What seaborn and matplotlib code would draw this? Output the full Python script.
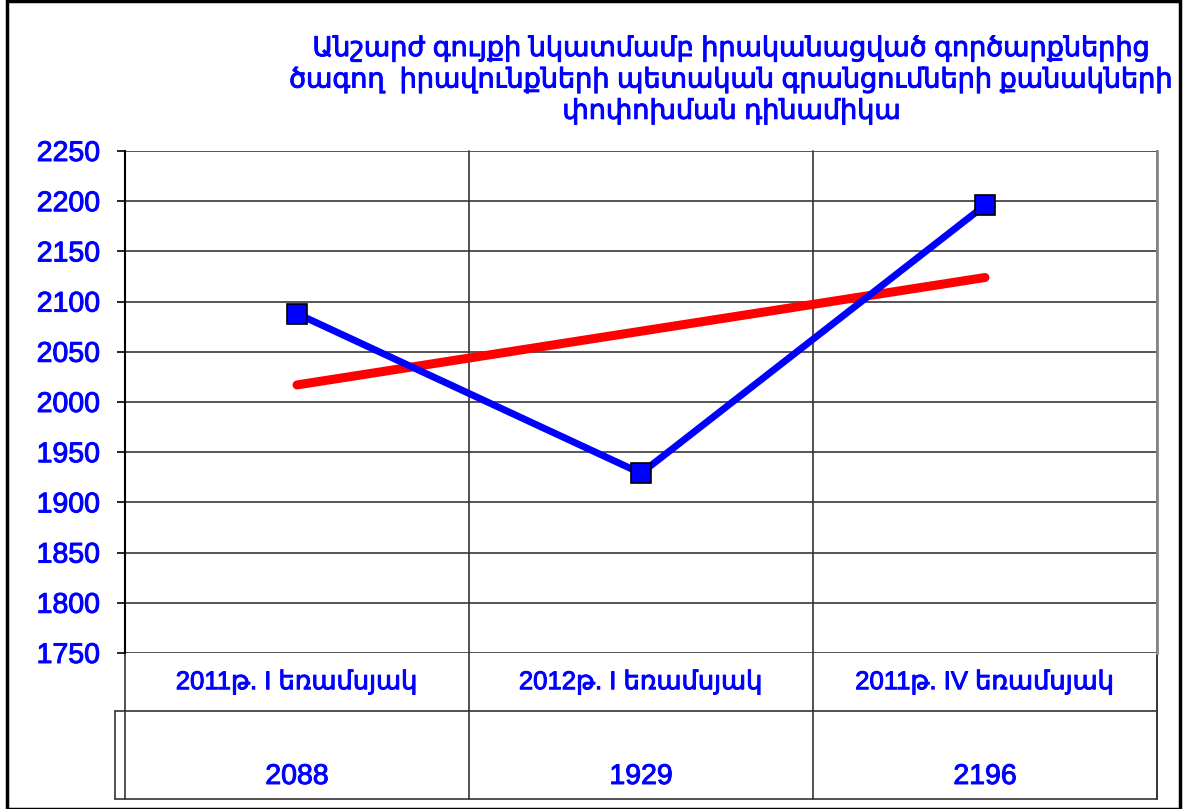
import matplotlib
matplotlib.use("Agg")
import matplotlib.pyplot as plt
import matplotlib.patheffects as pe
import seaborn as sns
import pandas as pd
from matplotlib.patches import Rectangle

# data
periods = ["2011թ. I եռամսյակ", "2012թ. I եռամսյակ", "2011թ. IV եռամսյակ"]
counts = [2088, 1929, 2196]
trend_values = [2017, 2124]  # linear trend at first and last period
y_ticks = list(range(1750, 2251, 50))

title = ("Անշարժ գույքի նկատմամբ իրականացված գործարքներից\n"
         "ծագող  իրավունքների պետական գրանցումների քանակների\n"
         "փոփոխման դինամիկա")

sns.set_style("white")
plt.rcParams["font.family"] = ["Liberation Sans", "DejaVu Sans"]

df = pd.DataFrame({"period": periods, "count": counts})

fig = plt.figure(figsize=(11.84, 8.09), dpi=100)
ax = fig.add_axes([125 / 1184, 1 - 653 / 809, 1032 / 1184, 502 / 809])

blue = "#0000ff"
grid_col = "#555555"
# slightly heavier text, like the original rendering
heavy = [pe.withStroke(linewidth=0.7, foreground=blue)]

# horizontal gridlines
for v in y_ticks:
    ax.axhline(v, color=grid_col, lw=1.4, zorder=1)

sns.lineplot(data=df, x="period", y="count", ax=ax, color=blue, lw=5,
             marker="s", markersize=14, markerfacecolor=blue,
             markeredgecolor="black", markeredgewidth=1.2, zorder=4)
ax.plot([periods[0], periods[-1]], trend_values, color="#ff0000", lw=6.5,
        solid_capstyle="round", zorder=3)

ax.set_xlim(-0.5, len(periods) - 0.5)
ax.set_ylim(y_ticks[0], y_ticks[-1])
ax.set_yticks(y_ticks)
ax.set_yticklabels([str(v) for v in y_ticks], color=blue, fontsize=20.5)
for lab in ax.get_yticklabels():
    lab.set_path_effects(heavy)
ax.tick_params(axis="y", left=True, direction="out", length=6, width=1.2,
               color="black", pad=12)
ax.set_xticks([])
ax.set_xlabel("")
ax.set_ylabel("")
for side in ["top", "bottom"]:
    ax.spines[side].set_visible(False)
ax.spines["left"].set_color("black")
ax.spines["left"].set_linewidth(1.5)
ax.spines["right"].set_color("#888888")
ax.spines["right"].set_linewidth(2)

# data table below the plot
row1 = -58 / 502
row2 = -146 / 502
tr = ax.transAxes
n = len(periods)
for i in range(n + 1):
    ax.plot([i / n, i / n], [1, row2], transform=tr, color="#333333", lw=1.2,
            clip_on=False, zorder=2)
ax.plot([0, 1], [row1, row1], transform=tr, color="#333333", lw=1.2, clip_on=False)
ax.plot([-10 / 1032, 1], [row2, row2], transform=tr, color="#333333", lw=1.2, clip_on=False)
ax.plot([-10 / 1032, 0], [row1, row1], transform=tr, color="#333333", lw=1.2, clip_on=False)
ax.plot([-10 / 1032, -10 / 1032], [row1, row2], transform=tr, color="#333333", lw=1.2,
        clip_on=False)
ax.plot([1, 1], [0, row2], transform=tr, color="#333333", lw=1.2, clip_on=False)

for i, (p, c) in enumerate(zip(periods, counts)):
    xc = (i + 0.5) / n
    ax.text(xc, row1 / 2, p, transform=tr, ha="center", va="center",
            color=blue, fontsize=18.5, path_effects=heavy)
    ax.text(xc, row2 + 22 / 502, str(c), transform=tr, ha="center", va="center",
            color=blue, fontsize=20.5, path_effects=heavy)

fig.text(732 / 1184, 1 - 80 / 809, title, ha="center", va="center",
         color=blue, fontsize=19.5, linespacing=1.22, path_effects=heavy)

# outer frame
fig.patches.append(Rectangle((7 / 1184, 0), 1173 / 1184, 0.999, transform=fig.transFigure,
                             fill=False, edgecolor="black", lw=2.5))

fig.savefig("out.png", dpi=100)
